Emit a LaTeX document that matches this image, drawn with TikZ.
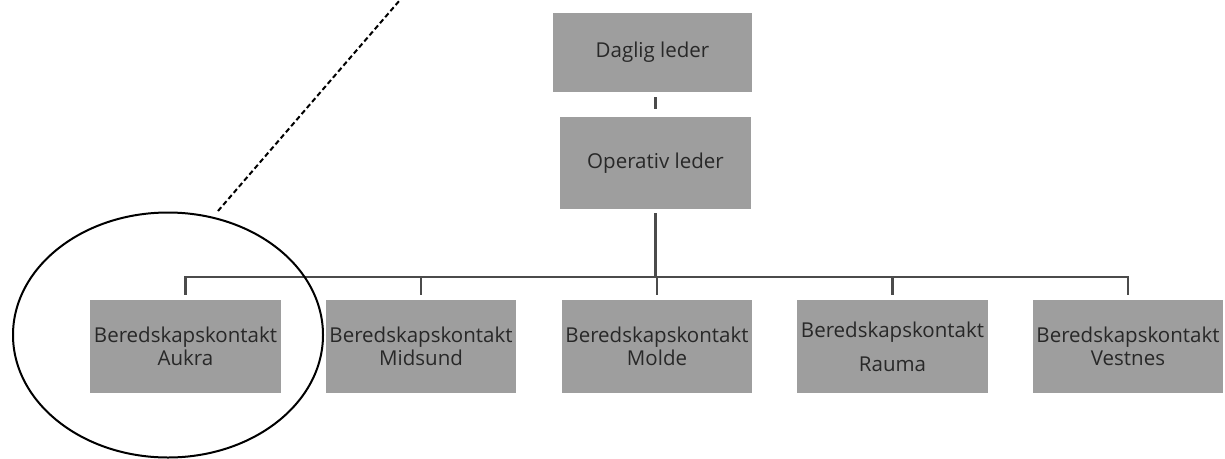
\documentclass[tikz,border=0pt]{standalone}
\usepackage{fontspec}
\setmainfont{Open Sans}
\usetikzlibrary{shapes.geometric}
\definecolor{boxgray}{RGB}{158,158,158}
\definecolor{txtgray}{RGB}{40,40,40}
\definecolor{linegray}{RGB}{75,75,75}
\tikzset{
  orgbox/.style={fill=boxgray, draw=none, inner sep=0pt, align=center, text=txtgray,
    font=\fontsize{20.5}{22}\selectfont},
  conn/.style={draw=linegray, line width=2.6pt},
  dashline/.style={draw=black, line width=2pt, dash pattern=on 5pt off 3pt},
  zoomring/.style={ellipse, draw=black, line width=2pt, inner sep=0pt}
}
\begin{document}
\begin{tikzpicture}[x=1pt,y=-1pt]
\useasboundingbox (0,0) rectangle (1225,458);
\node[orgbox, minimum width=199pt, minimum height=79pt] (d) at (652.5,52.5) {\raisebox{-7pt}{Daglig leder}};
\node[orgbox, minimum width=191pt, minimum height=92pt] (o) at (655.5,163) {Operativ leder};
\node[orgbox, minimum width=191pt, minimum height=93pt] (a) at (185.5,346.5) {\raisebox{-3pt}{\shortstack{Beredskapskontakt\\Aukra}}};
\node[orgbox, minimum width=190pt, minimum height=93pt] (m) at (421,346.5) {\raisebox{-3pt}{\shortstack{Beredskapskontakt\\Midsund}}};
\node[orgbox, minimum width=190pt, minimum height=93pt] (mo) at (657,346.5) {\raisebox{-3pt}{\shortstack{Beredskapskontakt\\Molde}}};
\node[orgbox, minimum width=191pt, minimum height=93pt] (r) at (892.5,346.5) {Beredskapskontakt\\[12pt]Rauma};
\node[orgbox, minimum width=190pt, minimum height=93pt] (v) at (1128,346.5) {\raisebox{-3pt}{\shortstack{Beredskapskontakt\\Vestnes}}};
\coordinate (bus) at (657,277);
\draw[conn] ([yshift=-5pt]d.south -| o.north) -- ([yshift=8pt]o.north);
\draw[conn] ([yshift=-4pt]o.south) -- (o.south |- bus);
\draw[conn] ([yshift=5pt]a.north) |- (v.north |- bus) -- ([yshift=5pt]v.north);
\draw[conn] ([yshift=5pt]m.north) -- (m.north |- bus);
\draw[conn] ([yshift=5pt]mo.north) -- (mo.north |- bus);
\draw[conn] ([yshift=5pt]r.north) -- (r.north |- bus);
\node[zoomring, minimum width=310pt, minimum height=245pt] (ring) at (168,335) {};
\coordinate (dashstart) at (218,211);
\coordinate (far) at (400,0);
\draw[dashline] (dashstart) -- (far);
\end{tikzpicture}
\end{document}
